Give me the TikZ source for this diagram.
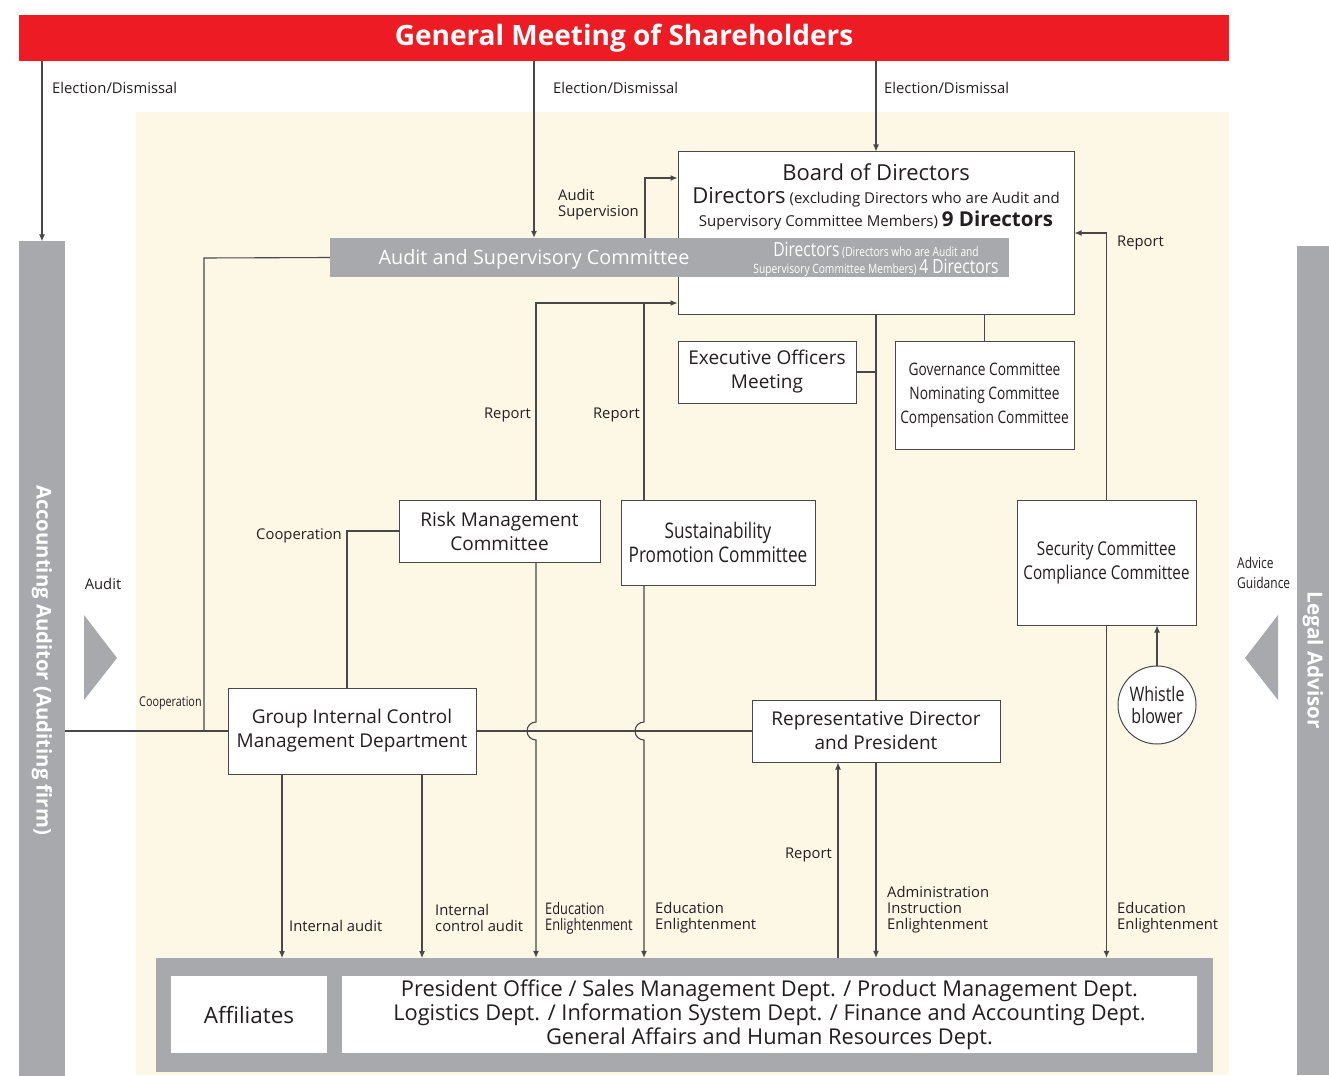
\documentclass[tikz,border=0pt]{standalone}
\usepackage{fontspec}
\setmainfont{Open Sans}
\newfontfamily\condfont[FakeStretch=0.8]{Open Sans}
\usetikzlibrary{arrows.meta}
\definecolor{gm_red}{RGB}{237, 28, 36}
\definecolor{gm_gray}{RGB}{167, 169, 172}
\definecolor{gm_cream}{RGB}{253, 247, 230}
\definecolor{gm_line}{RGB}{72, 72, 72}
\definecolor{gm_text}{RGB}{35, 31, 32}
\newcommand{\titlesize}{\fontsize{28}{30}\selectfont}
\newcommand{\boxsize}{\fontsize{19}{24}\selectfont}
\newcommand{\lblsize}{\fontsize{14.8}{16}\selectfont}
\tikzstyle{box}=[rectangle,fill=white,draw=gm_line,line width=1pt,inner sep=0pt,
  align=center,text=gm_text,font=\boxsize]
\tikzstyle{bar}=[rectangle,fill=gm_gray,inner sep=0pt,text=white]
\tikzstyle{lbl}=[inner sep=0pt,align=left,text=gm_text,font=\lblsize]
\tikzstyle{wire}=[draw=gm_line,line width=1.1pt]
\tikzstyle{arr}=[draw=gm_line,line width=1.1pt,-{Latex[length=7pt,width=6pt]}]
\tikzstyle{none}=[]

\begin{document}
\begin{tikzpicture}[x=1pt,y=-1pt]
	\useasboundingbox (0,0) rectangle (1329,1075);
	\fill [gm_cream] (136,112) rectangle (1229,1075);
	\fill [gm_gray] (84,615) -- (117,658) -- (84,700) -- cycle;
	\fill [gm_gray] (1278,615) -- (1245,658) -- (1278,700) -- cycle;

	\node [style=bar, fill=gm_red, minimum width=1210pt, minimum height=46pt, font=\titlesize\bfseries] (0) at (624,38) {General Meeting of Shareholders};
	\node [style=bar, rotate=-90, minimum width=837pt, minimum height=46pt, font=\fontsize{20.3}{22}\selectfont\bfseries] (1) at (42,660) {Accounting Auditor (Auditing firm)};
	\node [style=bar, rotate=-90, minimum width=829pt, minimum height=32pt, font=\fontsize{20.6}{22}\selectfont\bfseries] (2) at (1313,660.5) {Legal Advisor};
	\node [style=box, minimum width=396pt, minimum height=162pt] (3) at (876,233) {};
	\node [style=none, align=center, text=gm_text, inner sep=0pt, font=\fontsize{15}{23}\selectfont] (4) at (876,197) {{\fontsize{22}{23}\selectfont Board of Directors}\\ {\fontsize{22}{23}\selectfont Directors} (excluding Directors who are Audit and\\ Supervisory Committee Members) {\fontsize{20.5}{23}\selectfont\bfseries 9 Directors}};
	\node [style=bar, minimum width=679pt, minimum height=39pt] (5) at (669.5,257.5) {};
	\node [style=none, text=white, inner sep=0pt, font=\fontsize{19.8}{24}\selectfont] (6) at (534,259) {Audit and Supervisory Committee};
	\node [style=none, text=white, align=center, inner sep=0pt, font=\condfont\fontsize{12.8}{17}\selectfont] (7) at (876,259) {{\fontsize{19.5}{17}\selectfont Directors} (Directors who are Audit and\\ Supervisory Committee Members) {\fontsize{19.5}{17}\selectfont 4 Directors}};
	\node [style=box, minimum width=178pt, minimum height=62pt] (8) at (767,372) {Executive Officers\\Meeting};
	\node [style=box, minimum width=179pt, minimum height=108pt, font=\condfont\fontsize{17.2}{24}\selectfont] (9) at (984.5,395) {Governance Committee\\Nominating Committee\\Compensation Committee};
	\node [style=box, minimum width=201pt, minimum height=62pt] (10) at (499.5,531) {Risk Management\\Committee};
	\node [style=box, minimum width=194pt, minimum height=85pt, font=\condfont\fontsize{21.5}{24}\selectfont] (11) at (718,542.5) {Sustainability\\Promotion Committee};
	\node [style=box, minimum width=179pt, minimum height=125pt, font=\condfont\fontsize{19}{24}\selectfont] (12) at (1106.5,562.5) {Security Committee\\Compliance Committee};
	\node [style=box, circle, minimum size=78pt, font=\condfont\fontsize{20}{22}\selectfont] (13) at (1157,705) {Whistle\\blower};
	\node [style=box, minimum width=248pt, minimum height=86pt] (14) at (352,731) {Group Internal Control\\Management Department};
	\node [style=box, minimum width=248pt, minimum height=62pt] (15) at (876,731) {Representative Director\\and President};
	\node [style=bar, minimum width=1057pt, minimum height=114pt] (16) at (684.5,1015) {};
	\node [style=box, draw=none, minimum width=156pt, minimum height=77pt, font=\fontsize{22.5}{24}\selectfont] (17) at (249,1014.5) {Affiliates};
	\node [style=box, draw=none, minimum width=855pt, minimum height=77pt, font=\fontsize{21.8}{24}\selectfont] (18) at (769.5,1014.5) {President Office / Sales Management Dept. / Product Management Dept.\\Logistics Dept. / Information System Dept. / Finance and Accounting Dept.\\General Affairs and Human Resources Dept.};

	\node [style=none] (19) at (42,61) {};
	\node [style=none] (20) at (534,61) {};
	\node [style=none] (21) at (876,61) {};
	\node [style=none] (22) at (645,178) {};
	\node [style=none] (23) at (204,258) {};
	\node [style=none] (24) at (204,731) {};
	\node [style=none] (25) at (65,731) {};
	\node [style=none] (26) at (347,531) {};
	\node [style=none] (27) at (536,303) {};
	\node [style=none] (28) at (644,303) {};
	\node [style=none] (29) at (536,722) {};
	\node [style=none] (30) at (644,722) {};
	\node [style=none] (31) at (838,958) {};
	\node [style=none] (32) at (1106.5,233) {};
	\node [style=none] (33) at (282,958) {};
	\node [style=none] (34) at (422,958) {};

	\node [style=lbl, anchor=west] (35) at (52,88) {Election/Dismissal};
	\node [style=lbl, anchor=west] (36) at (553,88) {Election/Dismissal};
	\node [style=lbl, anchor=west] (37) at (884,88) {Election/Dismissal};
	\node [style=lbl, anchor=west] (38) at (558,205) {Audit\\Supervision};
	\node [style=lbl, anchor=east] (39) at (531,415) {Report};
	\node [style=lbl, anchor=east] (40) at (640,415) {Report};
	\node [style=lbl, anchor=west] (41) at (1117,243) {Report};
	\node [style=lbl, anchor=east] (42) at (342,536) {Cooperation};
	\node [style=lbl, anchor=west, font=\condfont\fontsize{13.5}{16}\selectfont] (43) at (139,703) {Cooperation};
	\node [style=lbl] (44) at (103,584) {Audit};
	\node [style=lbl, anchor=west, font=\condfont\fontsize{15}{20}\selectfont] (45) at (1237,573) {Advice\\Guidance};
	\node [style=lbl, anchor=east] (46) at (832,855) {Report};
	\node [style=lbl, anchor=west] (47) at (289,926) {Internal audit};
	\node [style=lbl, anchor=west] (48) at (435,918) {Internal\\control audit};
	\node [style=lbl, anchor=west, font=\condfont\fontsize{16}{16}\selectfont] (49) at (545,918) {Education\\Enlightenment};
	\node [style=lbl, anchor=west] (50) at (655,918) {Education\\Enlightenment};
	\node [style=lbl, anchor=west] (51) at (887,910) {Administration\\Instruction\\Enlightenment};
	\node [style=lbl, anchor=west] (52) at (1117,918) {Education\\Enlightenment};

	\draw [style=arr] (19.center) to (1);
	\draw [style=arr] (20.center) to (20.center |- 5.north);
	\draw [style=arr] (21.center) to (3);
	\draw [style=arr] (22.center |- 5.north) to (22.center) to (3.west |- 22.center);
	\draw [style=wire] (5.west) to (23.center) to (24.center);
	\draw [style=wire] (25.center) to (14.west);
	\draw [style=wire] (14.east) to (15.west);
	\draw [style=wire] (10.west) to (26.center) to (26.center |- 14.north);
	\draw [style=arr] (27.center |- 10.north) to (27.center) to (3.west |- 27.center);
	\draw [style=wire] (28.center |- 11.north) to (28.center);
	\draw [style=arr] (27.center |- 10.south) to (29.center) arc [start angle=90, end angle=270, radius=9pt] to (27.center |- 16.north);
	\draw [style=arr] (28.center |- 11.south) to (30.center) arc [start angle=90, end angle=270, radius=9pt] to (28.center |- 16.north);
	\draw [style=wire] (3.south) to (15.north);
	\draw [style=wire] (8.east) to (8.east -| 3.south);
	\draw [style=wire] (9.north) to (9.north |- 3.south);
	\draw [style=arr] (15.south) to (15.south |- 16.north);
	\draw [style=arr] (31.center) to (31.center |- 15.south);
	\draw [style=arr] (12.north) to (32.center) to (3.east |- 32.center);
	\draw [style=arr] (12.south) to (12.south |- 16.north);
	\draw [style=arr] (13.north) to (13.north |- 12.south);
	\draw [style=arr] (33.center |- 14.south) to (33.center);
	\draw [style=arr] (34.center |- 14.south) to (34.center);
\end{tikzpicture}
\end{document}
